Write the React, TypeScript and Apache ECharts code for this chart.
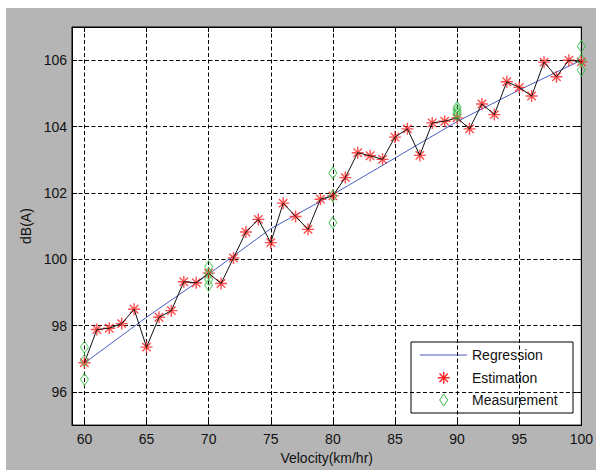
import React, { useEffect, useRef } from "react";
import * as echarts from "echarts";

const velocity = [60, 61, 62, 63, 64, 65, 66, 67, 68, 69, 70, 71, 72, 73, 74, 75, 76, 77, 78, 79, 80, 81, 82, 83, 84, 85, 86, 87, 88, 89, 90, 91, 92, 93, 94, 95, 96, 97, 98, 99, 100];
const estimation = [96.88, 97.88, 97.92, 98.06, 98.49, 97.35, 98.25, 98.45, 99.32, 99.29, 99.58, 99.27, 100.04, 100.82, 101.2, 100.5, 101.69, 101.29, 100.9, 101.81, 101.91, 102.46, 103.21, 103.12, 103.01, 103.68, 103.93, 103.13, 104.11, 104.16, 104.26, 103.93, 104.68, 104.36, 105.35, 105.18, 104.92, 105.94, 105.5, 106.0, 105.95];
const regressionX = [60, 65, 70, 75, 80, 85, 90, 95, 100];
const regressionY = [96.87, 98.25, 99.55, 100.92, 101.95, 103.05, 104.15, 105.1, 106.0];
const measurementX = [60, 60, 60, 70, 70, 70, 70, 80, 80, 80, 90, 90, 90, 90, 100, 100, 100];
const measurementY = [97.35, 96.95, 96.38, 99.77, 99.57, 99.39, 99.22, 102.6, 101.91, 101.1, 104.58, 104.5, 104.42, 104.35, 106.42, 106.0, 105.7];
const xTicks = [60, 65, 70, 75, 80, 85, 90, 95, 100];
const yTicks = [96, 98, 100, 102, 104, 106];

const FONT = "Liberation Sans";
const STAR = "path://M5,0L5,10M0,5L10,5M1.5,1.5L8.5,8.5M1.5,8.5L8.5,1.5";

export default function App() {
  const ref = useRef<HTMLDivElement>(null);
  useEffect(() => {
    if (!ref.current) return;
    const chart = echarts.init(ref.current, undefined, { renderer: "svg" });
    const est = velocity.map((v, i) => [v, estimation[i]]);
    const reg = regressionX.map((v, i) => [v, regressionY[i]]);
    const meas = measurementX.map((v, i) => [v, measurementY[i]]);
    const labelStyle = { color: "#111", fontSize: 14, fontFamily: FONT };
    const lx = 437.7;
    const sy = 369.7;
    const dy = 392;
    const r = 6;
    const d = 4.2;
    chart.setOption({
      animation: false,
      backgroundColor: "#b5b5b5",
      grid: { left: 66, top: 19, right: 14, bottom: 41, show: true, backgroundColor: "#fff", borderColor: "#000", borderWidth: 1 },
      xAxis: [
        {
          type: "value", min: 59, max: 100, position: "bottom",
          axisLine: { show: true, lineStyle: { color: "#000" } },
          axisTick: { show: true, inside: true, length: 5, customValues: xTicks, lineStyle: { color: "#000" } },
          axisLabel: { customValues: xTicks, margin: 7, ...labelStyle },
          splitLine: { show: true, lineStyle: { type: [4, 2.5], color: "#000", width: 1 } },
          name: "Velocity(km/hr)", nameLocation: "middle", nameGap: 23,
          nameTextStyle: { ...labelStyle },
        },
        {
          type: "value", min: 59, max: 100, position: "top",
          axisLine: { show: true, lineStyle: { color: "#000" } },
          axisTick: { show: true, inside: true, length: 5, customValues: xTicks, lineStyle: { color: "#000" } },
          axisLabel: { show: false },
          splitLine: { show: false },
        },
      ],
      yAxis: [
        {
          type: "value", min: 95, max: 107, position: "left",
          axisLine: { show: true, lineStyle: { color: "#000" } },
          axisTick: { show: true, inside: true, length: 5, customValues: yTicks, lineStyle: { color: "#000" } },
          axisLabel: { customValues: yTicks, margin: 5, ...labelStyle },
          splitLine: { show: true, lineStyle: { type: [4, 2.5], color: "#000", width: 1 } },
          name: "dB(A)", nameLocation: "middle", nameGap: 39, nameRotate: 90,
          nameTextStyle: { ...labelStyle },
        },
        {
          type: "value", min: 95, max: 107, position: "right",
          axisLine: { show: true, lineStyle: { color: "#000" } },
          axisTick: { show: true, inside: true, length: 5, customValues: yTicks, lineStyle: { color: "#000" } },
          axisLabel: { show: false },
          splitLine: { show: false },
        },
      ],
      series: [
        {
          name: "Regression", type: "line", data: reg, symbol: "none", smooth: false,
          lineStyle: { color: "#4a5cc4", width: 1 }, z: 2,
        },
        {
          name: "Estimation", type: "scatter", data: est, symbol: STAR, symbolSize: 12,
          itemStyle: { color: "rgba(0,0,0,0)", borderColor: "#ff2222", borderWidth: 1.4 }, z: 3,
        },
        {
          name: "EstimationLine", type: "line", data: est, symbol: "none",
          lineStyle: { color: "#111", width: 1 }, z: 4,
        },
        {
          name: "Measurement", type: "scatter", data: meas, symbol: "diamond", symbolSize: [8, 12],
          clip: false,
          itemStyle: { color: "rgba(0,0,0,0)", borderColor: "#33bb44", borderWidth: 1 }, z: 5,
        },
      ],
      graphic: [
        {
          type: "group", z: 100,
          children: [
            { type: "rect", shape: { x: 405, y: 334, width: 162, height: 71 }, style: { fill: "#fff", stroke: "#000", lineWidth: 1 } },
            { type: "line", shape: { x1: 414, y1: 347, x2: 461, y2: 347 }, style: { stroke: "#4a5cc4", lineWidth: 1.2 } },
            { type: "text", x: 466, y: 347, style: { text: "Regression", fill: "#111", font: `14px "${FONT}"`, verticalAlign: "middle", align: "left" } },
            { type: "line", shape: { x1: lx, y1: sy - r, x2: lx, y2: sy + r }, style: { stroke: "#ff2222", lineWidth: 1.4 } },
            { type: "line", shape: { x1: lx - r, y1: sy, x2: lx + r, y2: sy }, style: { stroke: "#ff2222", lineWidth: 1.4 } },
            { type: "line", shape: { x1: lx - d, y1: sy - d, x2: lx + d, y2: sy + d }, style: { stroke: "#ff2222", lineWidth: 1.4 } },
            { type: "line", shape: { x1: lx - d, y1: sy + d, x2: lx + d, y2: sy - d }, style: { stroke: "#ff2222", lineWidth: 1.4 } },
            { type: "text", x: 466, y: sy, style: { text: "Estimation", fill: "#111", font: `14px "${FONT}"`, verticalAlign: "middle", align: "left" } },
            { type: "polygon", shape: { points: [[lx, dy - 6], [lx + 4, dy], [lx, dy + 6], [lx - 4, dy]] }, style: { fill: "none", stroke: "#33bb44", lineWidth: 1 } },
            { type: "text", x: 466, y: dy, style: { text: "Measurement", fill: "#111", font: `14px "${FONT}"`, verticalAlign: "middle", align: "left" } },
          ],
        },
      ],
    });
    return () => chart.dispose();
  }, []);
  return (
    <div
      ref={ref}
      style={{ position: "absolute", left: 6, top: 8, width: 590, height: 462 }}
    />
  );
}
